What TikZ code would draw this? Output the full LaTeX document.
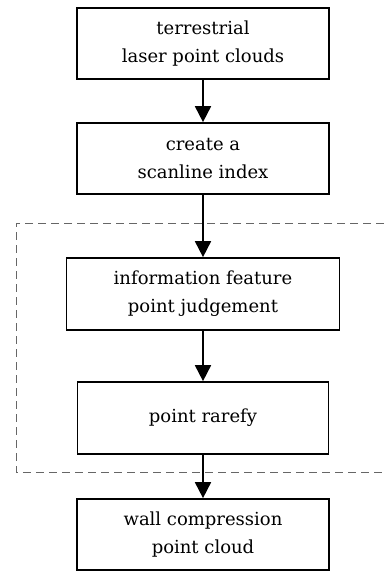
\documentclass[tikz,border=0pt]{standalone}
\usepackage{fontspec}
\setmainfont{DejaVu Serif}
\usetikzlibrary{arrows.meta}
\begin{document}
\begin{tikzpicture}[x=1pt,y=-1pt,
  stepbox/.style={draw=black,line width=1.7pt,rectangle,inner sep=0pt,align=center,
    font=\fontsize{18}{28}\selectfont},
  flowarrow/.style={line width=1.8pt,-{Triangle[width=16pt,length=16pt]}},
  groupline/.style={draw=black!60,line width=0.9pt,dash pattern=on 8pt off 5pt}]
\useasboundingbox (0,0) rectangle (384,571);
\draw[groupline] (384,223) -- (16,223) -- (16,472) -- (384,472);
\node[stepbox,minimum width=252pt,minimum height=71pt] (b1) at (203,43.5) {terrestrial\\laser point clouds};
\node[stepbox,minimum width=252pt,minimum height=71pt] (b2) at (203,158.5) {create a\\scanline index};
\node[stepbox,minimum width=273pt,minimum height=72pt] (b3) at (203,294) {information feature\\point judgement};
\node[stepbox,minimum width=251pt,minimum height=72pt] (b4) at (203,418) {point rarefy};
\node[stepbox,minimum width=252pt,minimum height=71pt] (b5) at (203,534.5) {wall compression\\point cloud};
\draw[flowarrow] (b1.south) -- (b2.north);
\draw[flowarrow] (b2.south) -- (b3.north);
\draw[flowarrow] (b3.south) -- (b4.north);
\draw[flowarrow] (b4.south) -- (b5.north);
\end{tikzpicture}
\end{document}
